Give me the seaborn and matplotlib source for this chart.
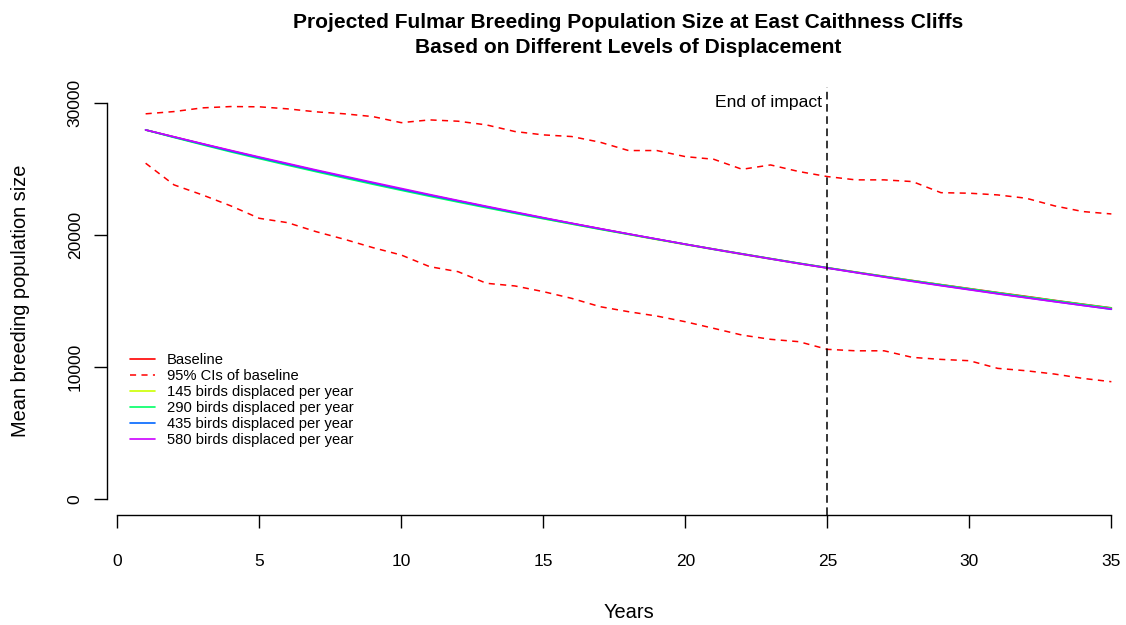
import numpy as np
import pandas as pd
import matplotlib
matplotlib.use("Agg")
import matplotlib.pyplot as plt
from matplotlib.lines import Line2D
import seaborn as sns

sns.set_style("white")
plt.rcParams["font.family"] = ["Liberation Sans", "DejaVu Sans"]
plt.rcParams.update({
    "text.color": "black",
    "axes.labelcolor": "black",
    "xtick.color": "black",
    "ytick.color": "black",
})

YEARS = list(range(1, 36))

BASELINE = [27950, 27420, 26890, 26370, 25860, 25360, 24870, 24390, 23920, 23460,
            23010, 22570, 22130, 21700, 21280, 20870, 20470, 20070, 19680, 19300,
            18930, 18570, 18210, 17860, 17520, 17190, 16870, 16550, 16240, 15940,
            15640, 15350, 15050, 14760, 14480]
CI_UPPER = [29170, 29340, 29620, 29720, 29700, 29545, 29320, 29170, 28960, 28500,
            28710, 28610, 28330, 27830, 27575, 27450, 27020, 26390, 26390, 25930,
            25730, 24970, 25300, 24800, 24420, 24170, 24170, 24040, 23200, 23160,
            23030, 22780, 22200, 21770, 21590]
CI_LOWER = [25430, 23790, 23030, 22200, 21260, 20930, 20250, 19670, 19040, 18480,
            17600, 17220, 16340, 16140, 15710, 15200, 14570, 14190, 13860, 13430,
            12930, 12420, 12100, 11920, 11340, 11230, 11230, 10730, 10580, 10480,
            9900, 9720, 9470, 9140, 8890]
DISP_145 = [27950, 27400, 26860, 26340, 25830, 25330, 24840, 24360, 23890, 23430,
            22980, 22540, 22100, 21660, 21240, 20830, 20430, 20040, 19650, 19270,
            18900, 18530, 18180, 17830, 17500, 17170, 16840, 16520, 16210, 15900,
            15600, 15300, 15010, 14720, 14440]
DISP_290 = [27950, 27380, 26830, 26290, 25780, 25280, 24790, 24310, 23840, 23380,
            22930, 22490, 22060, 21640, 21230, 20830, 20430, 20050, 19670, 19300,
            18930, 18570, 18210, 17860, 17520, 17180, 16860, 16540, 16230, 15920,
            15620, 15320, 15030, 14740, 14460]
DISP_435 = [27950, 27410, 26880, 26350, 25850, 25360, 24870, 24400, 23930, 23460,
            23010, 22570, 22130, 21700, 21280, 20870, 20460, 20070, 19680, 19290,
            18910, 18550, 18190, 17840, 17500, 17160, 16830, 16500, 16180, 15870,
            15560, 15260, 14960, 14670, 14370]
DISP_580 = [27950, 27430, 26910, 26400, 25900, 25410, 24920, 24450, 23980, 23520,
            23060, 22610, 22170, 21740, 21310, 20890, 20480, 20080, 19690, 19300,
            18920, 18550, 18190, 17830, 17490, 17150, 16810, 16480, 16160, 15850,
            15540, 15240, 14950, 14660, 14390]

SERIES = ["Baseline", "145 birds displaced per year", "290 birds displaced per year",
          "435 birds displaced per year", "580 birds displaced per year"]
COLORS = ["#FF0000", "#CCFF00", "#00FF66", "#0066FF", "#CC00FF"]
IMPACT_END = 25

means = pd.DataFrame({
    "year": YEARS * 5,
    "pop": BASELINE + DISP_145 + DISP_290 + DISP_435 + DISP_580,
    "series": [s for s in SERIES for _ in YEARS],
})
cis = pd.DataFrame({
    "year": YEARS * 2,
    "pop": CI_UPPER + CI_LOWER,
    "bound": ["upper"] * len(YEARS) + ["lower"] * len(YEARS),
})

fig = plt.figure(figsize=(11.26, 6.25), dpi=100)
# plot region runs past the right edge, as in the cropped original
ax = fig.add_axes([107 / 1126, 1 - 515 / 625, 1043 / 1126, 428 / 625])

sns.lineplot(data=means[means["series"] == "Baseline"], x="year", y="pop",
             color=COLORS[0], linewidth=1.2, ax=ax, legend=False)
sns.lineplot(data=cis, x="year", y="pop", units="bound", estimator=None,
             color="#FF0000", linewidth=1.1, dashes=False, ax=ax, legend=False)
for line in ax.lines[1:]:
    line.set_dashes((4, 3.5))
sns.lineplot(data=means[means["series"] != "Baseline"], x="year", y="pop",
             hue="series", hue_order=SERIES[1:], palette=COLORS[1:],
             linewidth=1.2, ax=ax, legend=False)

ax.axvline(IMPACT_END, color="black", linewidth=1.1, linestyle=(0, (5, 3)))
ax.annotate("End of impact", xy=(IMPACT_END, 30000), xytext=(-3.5, 0),
            textcoords="offset points", ha="right", va="center", fontsize=12.6)

ax.set_xlim(-0.36, 36.36)
ax.set_ylim(-1200, 31200)
ax.set_xticks(range(0, 36, 5))
ax.set_yticks([0, 10000, 20000, 30000])
for side in ["top", "right"]:
    ax.spines[side].set_visible(False)
ax.spines["bottom"].set_bounds(0, 35)
ax.spines["left"].set_bounds(0, 30000)
for side in ["bottom", "left"]:
    ax.spines[side].set_linewidth(1.0)
    ax.spines[side].set_color("black")
ax.tick_params(axis="x", direction="out", length=9.5, width=1.0, pad=18.5,
               labelsize=12.5, bottom=True)
ax.tick_params(axis="y", direction="out", length=9.5, width=1.0, pad=8,
               labelsize=12.5, left=True, labelrotation=90)
for lab in ax.get_yticklabels():
    lab.set_va("center")

ax.set_xlabel("Years", fontsize=14.4)
ax.set_ylabel("Mean breeding population size", fontsize=14.4)
ax.xaxis.set_label_coords(0.5, (515 - 613) / 428)
ax.xaxis.label.set_va("center")
ax.yaxis.set_label_coords((21 - 107) / 1043, 0.5)
ax.yaxis.label.set_va("center")

fig.text((107 + 1150) / 2 / 1126, 1 - 13 / 625,
         "Projected Fulmar Breeding Population Size at East Caithness Cliffs\n"
         "Based on Different Levels of Displacement",
         ha="center", va="top", fontsize=15.1, fontweight="bold", linespacing=1.38)

handles = [Line2D([], [], color=COLORS[0], lw=1.2),
           Line2D([], [], color="#FF0000", lw=1.1, dashes=(4, 3.5))]
handles += [Line2D([], [], color=c, lw=1.2) for c in COLORS[1:]]
labels = [SERIES[0], "95% CIs of baseline"] + SERIES[1:]
ax.legend(handles, labels, loc="upper left",
          bbox_to_anchor=((130 - 107) / 1043, (515 - 353) / 428),
          frameon=False, fontsize=10.6, handlelength=1.7, handletextpad=0.8,
          labelspacing=0.14, borderpad=0.0, borderaxespad=0.0)

fig.savefig("out.png", dpi=100, facecolor="white")
